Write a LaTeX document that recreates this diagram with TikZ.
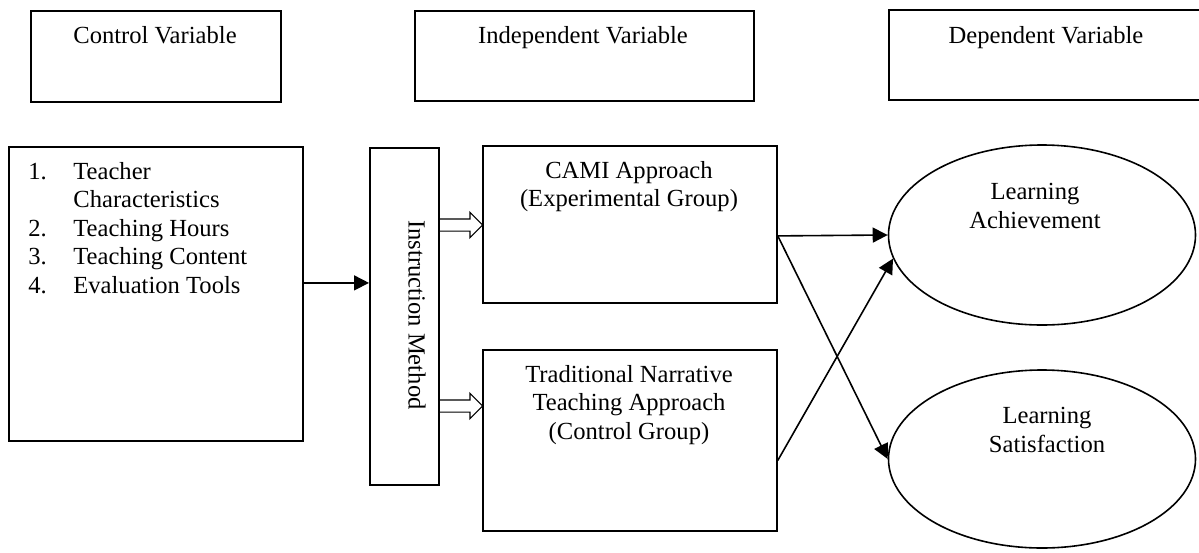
\documentclass[tikz,border=0pt]{standalone}
\usepackage{fontspec}
\setmainfont{Liberation Serif}
\usetikzlibrary{arrows.meta,shapes.geometric,shapes.arrows}
\tikzset{
  varbox/.style={draw, line width=0.9pt, anchor=north west, inner sep=0pt},
  txt/.style={font=\fontsize{12.3}{14.3}\selectfont, align=center, inner sep=0pt},
  outcome/.style={draw, ellipse, line width=0.8pt, inner sep=0pt, minimum width=153.5pt, minimum height=90pt},
  arr/.style={line width=0.8pt, -{Triangle[length=7.5pt,width=7.5pt]}},
  fatarrow/.style={draw, single arrow, line width=0.6pt, anchor=tail, inner sep=0pt,
    text height=5.5pt, minimum height=22pt, single arrow head extend=3.25pt}
}
\begin{document}
\begin{tikzpicture}[x=0.5pt,y=-0.5pt]
\useasboundingbox (0,0) rectangle (1199,552);
\clip (0,0) rectangle (1199,552);
\node[varbox, minimum width=125pt, minimum height=45.5pt] (cv) at (30,10) {};
\node[varbox, minimum width=169.5pt, minimum height=45pt] (iv) at (414,10) {};
\draw[line width=0.9pt] (1210,10) -- (889,10) -- (889,100) -- (1210,100);
\node[txt, anchor=base] (cvt) at (155,43) {Control Variable};
\node[txt, anchor=base] (ivt) at (583,43) {Independent Variable};
\node[txt, anchor=base] (dvt) at (1046,43) {Dependent Variable};
\node[varbox, minimum width=147pt, minimum height=147pt] (ctrl) at (8,146) {};
\node[txt, anchor=base west] (items) at (28,179) {\begin{tabular}[t]{@{}p{22.5pt}@{}l@{}}
1. & Teacher\\
   & Characteristics\\
2. & Teaching Hours\\
3. & Teaching Content\\
4. & Evaluation Tools
\end{tabular}};
\node[varbox, minimum width=34.5pt, minimum height=168.5pt] (im) at (369,147) {};
\node[txt, rotate=-90] (imt) at (417,315) {Instruction Method};
\node[varbox, minimum width=147pt, minimum height=78.5pt] (cami) at (482,145) {};
\node[varbox, minimum width=147pt, minimum height=90.5pt] (trad) at (482,349) {};
\node[txt] (camit) at (629,186.6) {CAMI Approach\\(Experimental Group)};
\node[txt] (tradt) at (629,405) {Traditional Narrative\\Teaching Approach\\(Control Group)};
\node[outcome] (ach) at (1042,235) {};
\node[outcome, minimum height=89pt] (sat) at (1042,459) {};
\node[txt] (acht) at (1035,206) {Learning\\Achievement};
\node[txt] (satt) at (1047,430) {Learning\\Satisfaction};
\node[fatarrow] (fa1) at (438,225) {};
\node[fatarrow] (fa2) at (438,406) {};
\draw[arr] ([yshift=5.5pt]ctrl.east) -- ([yshift=5.5pt]ctrl.east -| im.west);
\draw[arr] ([yshift=-5.75pt]cami.east) -- (ach.west);
\draw[arr] ([yshift=-5.75pt]cami.east) -- (sat.west);
\draw[arr] ([yshift=-10pt]trad.east) -- (ach.189);
\end{tikzpicture}
\end{document}
